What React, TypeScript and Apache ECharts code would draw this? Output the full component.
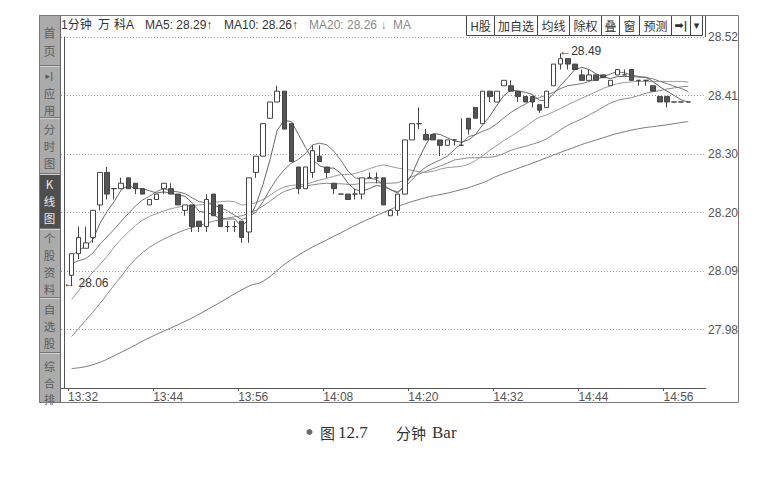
import React, { useEffect, useRef } from "react";
import * as echarts from "echarts";

// ---- categories (1-minute slots, slot 0 = 13:31 empty) ----
const startMinute = 13 * 60 + 31;
const slotCount = 91;
const times: string[] = Array.from({ length: slotCount }, (_, i) => {
  const m = startMinute + i;
  return `${Math.floor(m / 60)}:${String(m % 60).padStart(2, "0")}`;
});
const labelSlots = [1, 13, 25, 37, 49, 61, 73, 85];

// ---- y axis ticks ----
const yTicks = [27.98, 28.088, 28.196, 28.304, 28.412, 28.52];
const yMin = 27.872;
const yMax = 28.52;

// ---- candles from 13:32 (slot 1) ----
const opens = [
  28.08, 28.12, 28.13, 28.15, 28.21, 28.27, 28.24, 28.24, 28.26, 28.25,
  28.24, 28.21, 28.22, 28.24, 28.24, 28.23, 28.2, 28.21, 28.18, 28.17,
  28.23, 28.21, 28.17, 28.17, 28.18, 28.16, 28.27, 28.3, 28.37, 28.4,
  28.42, 28.36, 28.28, 28.24, 28.27, 28.3, 28.28, 28.25, 28.23, 28.23,
  28.23, 28.23, 28.26, 28.26, 28.26, 28.19, 28.2, 28.23, 28.33, 28.36,
  28.34, 28.34, 28.33, 28.32, 28.33, 28.32, 28.37, 28.39, 28.36, 28.42,
  28.4, 28.43, 28.43, 28.42, 28.41, 28.41, 28.395, 28.39, 28.43, 28.47,
  28.48, 28.47, 28.45, 28.44, 28.45, 28.45, 28.43, 28.45, 28.45, 28.46,
  28.44, 28.44, 28.43, 28.41, 28.41, 28.4, 28.4, 28.4,
];
const closes = [
  28.12, 28.15, 28.14, 28.2, 28.27, 28.23, 28.24, 28.25, 28.24, 28.24,
  28.23, 28.22, 28.23, 28.25, 28.23, 28.21, 28.21, 28.17, 28.17, 28.22,
  28.19, 28.17, 28.17, 28.17, 28.15, 28.26, 28.3, 28.36, 28.4, 28.42,
  28.35, 28.29, 28.24, 28.28, 28.31, 28.29, 28.27, 28.24, 28.23, 28.22,
  28.23, 28.26, 28.26, 28.26, 28.21, 28.2, 28.23, 28.33, 28.36, 28.36,
  28.33, 28.33, 28.32, 28.33, 28.33, 28.32, 28.35, 28.37, 28.42, 28.41,
  28.42, 28.44, 28.42, 28.41, 28.4, 28.4, 28.385, 28.42, 28.47, 28.48,
  28.47, 28.46, 28.44, 28.45, 28.44, 28.445, 28.44, 28.46, 28.45, 28.44,
  28.44, 28.44, 28.42, 28.4, 28.4, 28.4, 28.4, 28.4,
];
const lows = [
  28.06, 28.11, 28.13, 28.14, 28.2, 28.22, 28.22, 28.24, 28.24, 28.23,
  28.23, 28.21, 28.22, 28.23, 28.23, 28.21, 28.19, 28.16, 28.16, 28.16,
  28.19, 28.17, 28.16, 28.16, 28.14, 28.14, 28.26, 28.3, 28.37, 28.4,
  28.35, 28.29, 28.23, 28.24, 28.26, 28.29, 28.26, 28.23, 28.23, 28.22,
  28.22, 28.22, 28.26, 28.25, 28.21, 28.19, 28.19, 28.23, 28.33, 28.35,
  28.33, 28.33, 28.3, 28.32, 28.32, 28.32, 28.34, 28.37, 28.36, 28.4,
  28.4, 28.43, 28.42, 28.4, 28.4, 28.39, 28.38, 28.39, 28.43, 28.46,
  28.46, 28.46, 28.44, 28.44, 28.44, 28.445, 28.43, 28.45, 28.45, 28.44,
  28.43, 28.43, 28.42, 28.4, 28.39, 28.4, 28.4, 28.4,
];
const highs = [
  28.12, 28.17, 28.17, 28.2, 28.27, 28.28, 28.24, 28.26, 28.26, 28.25,
  28.24, 28.22, 28.23, 28.25, 28.25, 28.23, 28.21, 28.21, 28.18, 28.23,
  28.23, 28.21, 28.18, 28.18, 28.18, 28.26, 28.3, 28.36, 28.4, 28.43,
  28.42, 28.36, 28.28, 28.28, 28.32, 28.32, 28.28, 28.25, 28.23, 28.23,
  28.24, 28.26, 28.27, 28.27, 28.26, 28.2, 28.23, 28.33, 28.36, 28.39,
  28.35, 28.34, 28.33, 28.33, 28.33, 28.37, 28.37, 28.39, 28.42, 28.42,
  28.42, 28.44, 28.44, 28.42, 28.41, 28.41, 28.395, 28.42, 28.47, 28.49,
  28.48, 28.47, 28.46, 28.46, 28.45, 28.45, 28.44, 28.46, 28.46, 28.46,
  28.44, 28.44, 28.43, 28.41, 28.41, 28.4, 28.4, 28.4,
];

// ---- moving-average lines (slot 1..88) ----
const ma5 = [
  28.115, 28.127, 28.133, 28.146, 28.176, 28.198, 28.216, 28.238, 28.246, 28.24,
  28.24, 28.236, 28.232, 28.234, 28.232, 28.228, 28.226, 28.214, 28.198, 28.196,
  28.192, 28.184, 28.184, 28.184, 28.17, 28.184, 28.21, 28.248, 28.294, 28.348,
  28.366, 28.364, 28.34, 28.316, 28.294, 28.282, 28.278, 28.278, 28.268, 28.25,
  28.238, 28.236, 28.24, 28.246, 28.244, 28.238, 28.232, 28.246, 28.266, 28.296,
  28.322, 28.342, 28.34, 28.334, 28.328, 28.326, 28.33, 28.34, 28.358, 28.374,
  28.394, 28.412, 28.422, 28.42, 28.418, 28.414, 28.403, 28.403, 28.415, 28.431,
  28.445, 28.46, 28.464, 28.46, 28.452, 28.447, 28.443, 28.447, 28.447, 28.447,
  28.446, 28.446, 28.438, 28.428, 28.42, 28.412, 28.404, 28.4,
];
const ma10 = [
  28.102, 28.107, 28.111, 28.121, 28.138, 28.151, 28.165, 28.18, 28.194, 28.208,
  28.219, 28.226, 28.235, 28.24, 28.236, 28.234, 28.231, 28.223, 28.216, 28.214,
  28.21, 28.205, 28.199, 28.191, 28.183, 28.188, 28.197, 28.216, 28.239, 28.259,
  28.275, 28.287, 28.294, 28.305, 28.321, 28.324, 28.321, 28.309, 28.292, 28.272,
  28.26, 28.257, 28.259, 28.257, 28.247, 28.238, 28.234, 28.243, 28.256, 28.27,
  28.28, 28.287, 28.293, 28.3, 28.312, 28.324, 28.336, 28.34, 28.346, 28.351,
  28.36, 28.371, 28.381, 28.389, 28.396, 28.404, 28.408, 28.413, 28.418, 28.425,
  28.43, 28.432, 28.434, 28.438, 28.442, 28.446, 28.452, 28.456, 28.454, 28.45,
  28.447, 28.445, 28.443, 28.438, 28.434, 28.429, 28.425, 28.419,
];
const ma20 = [
  28.035, 28.052, 28.07, 28.086, 28.1, 28.115, 28.132, 28.147, 28.16, 28.172,
  28.182, 28.189, 28.194, 28.199, 28.203, 28.206, 28.208, 28.209, 28.21, 28.211,
  28.215, 28.216, 28.217, 28.216, 28.21, 28.211, 28.214, 28.22, 28.228, 28.237,
  28.243, 28.246, 28.247, 28.248, 28.252, 28.256, 28.259, 28.263, 28.266, 28.266,
  28.268, 28.272, 28.277, 28.281, 28.284, 28.281, 28.278, 28.276, 28.274, 28.271,
  28.27, 28.272, 28.276, 28.279, 28.28, 28.281, 28.285, 28.292, 28.301, 28.311,
  28.32, 28.329, 28.337, 28.345, 28.354, 28.364, 28.372, 28.376, 28.382, 28.388,
  28.395, 28.401, 28.407, 28.413, 28.419, 28.425, 28.43, 28.434, 28.436, 28.437,
  28.438, 28.438, 28.438, 28.438, 28.438, 28.438, 28.438, 28.437,
];
const ma30 = [
  27.967, 27.982, 27.997, 28.012, 28.028, 28.045, 28.062, 28.078, 28.096, 28.11,
  28.122, 28.132, 28.14, 28.147, 28.153, 28.159, 28.164, 28.168, 28.172, 28.176,
  28.18, 28.183, 28.186, 28.188, 28.19, 28.194, 28.2, 28.208, 28.217, 28.227,
  28.235, 28.239, 28.243, 28.245, 28.247, 28.249, 28.25, 28.249, 28.249, 28.248,
  28.248, 28.25, 28.251, 28.251, 28.25, 28.25, 28.251, 28.256, 28.262, 28.267,
  28.272, 28.277, 28.282, 28.287, 28.293, 28.295, 28.297, 28.297, 28.298, 28.298,
  28.3, 28.305, 28.311, 28.315, 28.318, 28.322, 28.326, 28.332, 28.34, 28.349,
  28.357, 28.363, 28.369, 28.376, 28.383, 28.391, 28.398, 28.403, 28.406, 28.408,
  28.412, 28.416, 28.419, 28.421, 28.424, 28.426, 28.428, 28.429,
];
const ma60Slots = [1, 4, 8, 12, 17, 21, 26, 28, 32, 38, 45, 50, 55, 59, 61, 66, 71, 75, 80, 85, 88];
const ma60Values = [
  27.908, 27.915, 27.938, 27.965, 27.995, 28.023, 28.06, 28.069, 28.109, 28.152,
  28.196, 28.22, 28.235, 28.251, 28.263, 28.287, 28.312, 28.33, 28.348, 28.358, 28.364,
];

const lowSlot = 1;
const lowValue = 28.06;
const highSlot = 70;
const highValue = 28.49;

const FONT = '"Liberation Sans", Arial, "Noto Sans CJK SC", sans-serif';
const CJK = '"Noto Sans CJK SC", "Liberation Sans", sans-serif';
const SERIF = '"Liberation Serif", "DejaVu Serif", serif';

function buildGraphics() {
  const g: any[] = [];
  // sidebar
  g.push({ type: "rect", shape: { x: 39, y: 15, width: 21, height: 388 }, style: { fill: "#ababab" } });
  g.push({ type: "rect", shape: { x: 40, y: 174, width: 20, height: 54 }, style: { fill: "#4e4e4e" } });
  [65, 117, 173, 228, 297, 352].forEach((y) => {
    g.push({ type: "line", shape: { x1: 39, y1: y + 0.5, x2: 60, y2: y + 0.5 }, style: { stroke: "#777", lineWidth: 1 } });
    g.push({ type: "line", shape: { x1: 39, y1: y + 1.5, x2: 60, y2: y + 1.5 }, style: { stroke: "#cfcfcf", lineWidth: 1 } });
  });
  const tabs: [string, number, number, number, boolean][] = [
    ["首\n页", 41, 18, 12, false],
    ["应\n用", 101.5, 17, 11.5, false],
    ["分\n时\n图", 145.5, 17, 11.5, false],
    ["K\n线\n图", 201, 17, 11.5, true],
    ["个\n股\n资\n料", 263, 17, 11.5, false],
    ["自\n选\n股", 325.5, 17, 11.5, false],
    ["综\n合\n排", 382.5, 16.5, 11, false],
  ];
  tabs.forEach(([t, y, lh, fs, dark]) => {
    g.push({
      type: "text", x: 49.5, y, style: {
        text: t, fill: dark ? "#e8e8e8" : "#5c5c5c", font: `${fs}px ${CJK}`, lineHeight: lh,
        align: "center", verticalAlign: "middle",
      },
    });
  });
  g.push({ type: "text", x: 49.5, y: 76, style: { text: "▸|", fill: "#5c5c5c", font: `bold 9px "DejaVu Sans"`, align: "center", verticalAlign: "middle" } });
  g.push({ type: "line", shape: { x1: 60.5, y1: 15, x2: 60.5, y2: 403 }, style: { stroke: "#666", lineWidth: 1 } });

  // outer frame
  g.push({ type: "rect", shape: { x: 39.5, y: 15.5, width: 699, height: 387 }, style: { fill: "none", stroke: "#777", lineWidth: 1 }, z: 10 });
  g.push({ type: "line", shape: { x1: 705.5, y1: 15, x2: 705.5, y2: 37 }, style: { stroke: "#555", lineWidth: 1 } });

  // header texts
  const header: [string, number, string][] = [
    ["1分钟", 61, "#333"], ["万", 98, "#333"], ["科A", 114, "#333"],
    ["MA5: 28.29↑", 145, "#333"], ["MA10: 28.26↑", 224, "#333"],
    ["MA20: 28.26 ↓", 309, "#8a8a8a"], ["MA", 393, "#8a8a8a"],
  ];
  header.forEach(([t, x, c]) => {
    g.push({ type: "text", x, y: 25, style: { text: t, fill: c, font: `12px ${FONT}`, verticalAlign: "middle" } });
  });
  const buttons: [string, number, number][] = [
    ["H股", 466, 494], ["加自选", 494, 537], ["均线", 537, 569], ["除权", 569, 601],
    ["叠", 601, 619], ["窗", 619, 639], ["预测", 639, 671], ["➡|", 671, 690], ["▾", 690, 702],
  ];
  buttons.forEach(([t, x0, x1]) => {
    g.push({ type: "rect", shape: { x: x0 + 0.5, y: 15.5, width: x1 - x0, height: 20 }, style: { fill: "#fff", stroke: "#444", lineWidth: 1 } });
    g.push({
      type: "text", x: (x0 + x1) / 2 + 0.5, y: 25.5,
      style: { text: t, fill: "#333", font: t === "➡|" || t === "▾" ? `bold 11px "DejaVu Sans"` : `12px ${CJK}`, align: "center", verticalAlign: "middle" },
    });
  });

  // caption
  g.push({ type: "circle", shape: { cx: 309.5, cy: 432, r: 3 }, style: { fill: "#6a6a6a" } });
  g.push({ type: "text", x: 320, y: 432, style: { text: "图", fill: "#333", font: `15px ${CJK}`, verticalAlign: "middle" } });
  g.push({ type: "text", x: 338, y: 432, style: { text: "12.7", fill: "#333", font: `17px ${SERIF}`, verticalAlign: "middle" } });
  g.push({ type: "text", x: 396, y: 432, style: { text: "分钟", fill: "#333", font: `15px ${CJK}`, verticalAlign: "middle" } });
  g.push({ type: "text", x: 432, y: 432, style: { text: "Bar", fill: "#333", font: `17px ${SERIF}`, verticalAlign: "middle" } });
  return g;
}

export default function App() {
  const ref = useRef<HTMLDivElement>(null);
  useEffect(() => {
    const chart = echarts.init(ref.current!, null, { renderer: "svg" });
    const candleData = opens.map((o, i) => [i + 1, o, closes[i], lows[i], highs[i]]);
    const lineOf = (arr: number[]) => arr.map((v, i) => [i + 1, v]);
    const lineSeries = (name: string, data: any[], color: string, smooth = false) => ({
      name, type: "line", data, symbol: "none", showSymbol: false, smooth,
      lineStyle: { color, width: 1 }, z: 3, silent: true,
    });
    const tickPositions = labelSlots.map((s) => s - 0.5);
    chart.setOption({
      animation: false,
      backgroundColor: "#fff",
      grid: { left: 61, top: 37, width: 645, height: 351 },
      xAxis: [
        {
          type: "category", data: times, boundaryGap: true,
          axisLine: { lineStyle: { color: "#555" } },
          axisTick: { show: false },
          axisLabel: { show: false },
          splitLine: { show: false },
        },
        {
          type: "value", position: "bottom", min: -0.5, max: slotCount - 0.5,
          axisLine: { show: false },
          axisTick: { show: true, customValues: tickPositions, length: 3, lineStyle: { color: "#555" } },
          axisLabel: {
            customValues: tickPositions, align: "left", color: "#555", fontSize: 12, fontFamily: FONT, margin: 3,
            formatter: (v: number) => times[Math.round(v + 0.5)] ?? "",
          },
          splitLine: { show: false },
        },
      ],
      yAxis: {
        type: "value", position: "right", min: yMin, max: yMax, scale: true,
        axisLine: { show: true, lineStyle: { color: "#555" } },
        axisTick: { show: false, customValues: yTicks },
        axisLabel: { customValues: yTicks, formatter: (v: number) => v.toFixed(2), color: "#555", fontSize: 12, fontFamily: FONT, margin: 2 },
        splitLine: { show: true, lineStyle: { color: "#9a9a9a", type: [1, 2], width: 1 } },
      },
      graphic: buildGraphics(),
      series: [
        lineSeries("MA60", ma60Slots.map((s, i) => [s, ma60Values[i]]), "#7a7a7a", true),
        lineSeries("MA30", lineOf(ma30), "#8a8a8a"),
        lineSeries("MA20", lineOf(ma20), "#9a9a9a"),
        lineSeries("MA10", lineOf(ma10), "#777"),
        lineSeries("MA5", lineOf(ma5), "#666"),
        {
          type: "candlestick", data: candleData, encode: { x: 0, y: [1, 2, 3, 4] }, barWidth: 5, z: 5,
          itemStyle: { color: "#fff", color0: "#555", borderColor: "#444", borderColor0: "#444", borderWidth: 1 },
          markPoint: {
            symbol: "rect", symbolSize: 1, itemStyle: { color: "rgba(0,0,0,0)" },
            label: { show: true, color: "#333", fontSize: 12, fontFamily: FONT },
            data: [
              { coord: [lowSlot, lowValue], value: lowValue, label: { position: [-8, -9], formatter: "← " + lowValue.toFixed(2) } },
              { coord: [highSlot, highValue], value: highValue, label: { position: [-1, -8], formatter: "←" + highValue.toFixed(2) } },
            ],
          },
        },
      ],
    });
    return () => chart.dispose();
  }, []);
  return <div ref={ref} style={{ position: "fixed", left: 0, top: 0, width: 762, height: 481, background: "#fff" }} />;
}
